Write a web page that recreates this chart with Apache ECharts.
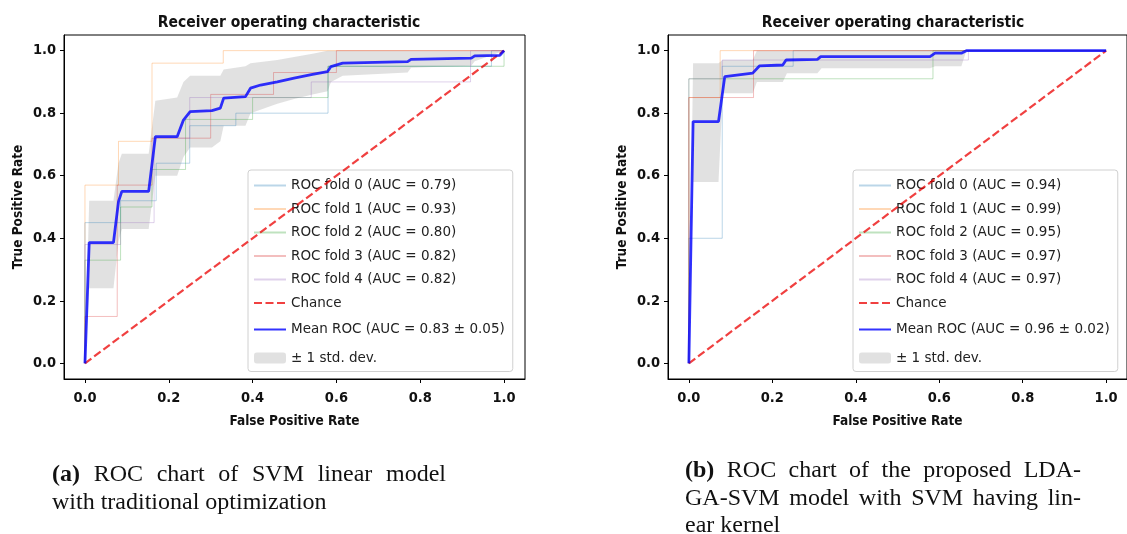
<!DOCTYPE html>
<html><head><meta charset="utf-8">
<script src="https://cdn.jsdelivr.net/npm/echarts@6/dist/echarts.min.js"></script>
<style>html,body{margin:0;padding:0;background:#fff}#c{width:1127px;height:534px}</style>
</head><body><div id="c"></div>
<script>
// ---------- tick labels / texts ----------
const tickValues = [0.0, 0.2, 0.4, 0.6, 0.8, 1.0];
const titleText = 'Receiver operating characteristic';
const xName = 'False Positive Rate';
const yName = 'True Positive Rate';
const chanceLine = [[0, 0], [1, 1]];

// ---------- chart (a) ----------
const a_foldNames = ['ROC fold 0 (AUC = 0.79)', 'ROC fold 1 (AUC = 0.93)', 'ROC fold 2 (AUC = 0.80)', 'ROC fold 3 (AUC = 0.82)', 'ROC fold 4 (AUC = 0.82)'];
const a_meanName = 'Mean ROC (AUC = 0.83 ± 0.05)';
const a_fold0 = [[0,0],[0,0.45],[0.085,0.45],[0.085,0.52],[0.17,0.52],[0.17,0.64],[0.25,0.64],[0.25,0.76],[0.36,0.76],[0.36,0.80],[0.58,0.80],[0.58,0.95],[0.97,0.95],[0.97,1],[1,1]];
const a_fold1 = [[0,0],[0,0.57],[0.08,0.57],[0.08,0.71],[0.16,0.71],[0.16,0.96],[0.33,0.96],[0.33,1],[1,1]];
const a_fold2 = [[0,0],[0,0.33],[0.085,0.33],[0.085,0.50],[0.16,0.50],[0.16,0.62],[0.24,0.62],[0.24,0.78],[0.40,0.78],[0.40,0.85],[0.58,0.85],[0.58,0.95],[1,0.95],[1,1]];
const a_fold3 = [[0,0],[0,0.15],[0.077,0.15],[0.077,0.57],[0.16,0.57],[0.16,0.72],[0.30,0.72],[0.30,0.86],[0.45,0.86],[0.45,0.93],[0.60,0.93],[0.60,1],[1,1]];
const a_fold4 = [[0,0],[0,0.38],[0.085,0.38],[0.085,0.45],[0.165,0.45],[0.165,0.72],[0.25,0.72],[0.25,0.85],[0.54,0.85],[0.54,0.90],[0.92,0.90],[0.92,1],[1,1]];
const a_meanFpr = [0, 0.0101, 0.068, 0.08, 0.088, 0.152, 0.168, 0.22, 0.235, 0.251, 0.303, 0.323, 0.331, 0.383, 0.395, 0.419, 0.459, 0.499, 0.543, 0.579, 0.587, 0.615, 0.77, 0.778, 0.922, 0.93, 0.99, 1];
const a_meanTpr = [0, 0.386, 0.386, 0.517, 0.55, 0.55, 0.725, 0.725, 0.778, 0.805, 0.808, 0.816, 0.848, 0.853, 0.88, 0.89, 0.90, 0.912, 0.924, 0.933, 0.949, 0.96, 0.965, 0.972, 0.976, 0.983, 0.985, 1];
const a_bandFpr   = [0, 0.0101, 0.068, 0.08, 0.088, 0.152, 0.168, 0.22, 0.235, 0.251, 0.303, 0.323, 0.331, 0.383, 0.395, 0.459, 0.499, 0.543, 0.579, 0.587, 0.615, 0.77, 0.778, 0.922, 0.93, 1];
const a_bandUpper = [0, 0.52, 0.52, 0.64, 0.67, 0.67, 0.84, 0.85, 0.90, 0.92, 0.92, 0.92, 0.94, 0.95, 0.96, 0.97, 0.98, 0.99, 1.0, 1.0, 1.0, 1.0, 1.0, 1.0, 1.0, 1];
const a_bandLower = [0, 0.24, 0.24, 0.39, 0.43, 0.43, 0.60, 0.60, 0.66, 0.69, 0.69, 0.71, 0.76, 0.76, 0.80, 0.83, 0.845, 0.86, 0.87, 0.90, 0.92, 0.93, 0.945, 0.952, 0.966, 1];
const a_caption = [
  {words: [['(a)', true], ['ROC'], ['chart'], ['of'], ['SVM'], ['linear'], ['model']], justify: true},
  {words: [['with'], ['traditional'], ['optimization']], justify: false}
];

// ---------- chart (b) ----------
const b_foldNames = ['ROC fold 0 (AUC = 0.94)', 'ROC fold 1 (AUC = 0.99)', 'ROC fold 2 (AUC = 0.95)', 'ROC fold 3 (AUC = 0.97)', 'ROC fold 4 (AUC = 0.97)'];
const b_meanName = 'Mean ROC (AUC = 0.96 ± 0.02)';
const b_fold0 = [[0,0],[0,0.40],[0.08,0.40],[0.08,0.95],[0.25,0.95],[0.25,1],[1,1]];
const b_fold1 = [[0,0],[0,0.85],[0.075,0.85],[0.075,1],[1,1]];
const b_fold2 = [[0,0],[0,0.91],[0.585,0.91],[0.585,1],[1,1]];
const b_fold3 = [[0,0],[0,0.85],[0.155,0.85],[0.155,1],[1,1]];
const b_fold4 = [[0,0],[0,0.91],[0.08,0.91],[0.08,0.97],[0.67,0.97],[0.67,1],[1,1]];
const b_meanFpr = [0, 0.0101, 0.071, 0.086, 0.153, 0.169, 0.225, 0.233, 0.308, 0.316, 0.578, 0.59, 0.653, 0.665, 1];
const b_meanTpr = [0, 0.773, 0.773, 0.917, 0.928, 0.951, 0.954, 0.97, 0.972, 0.981, 0.981, 0.992, 0.992, 1.0, 1];
const b_bandFpr   = [0, 0.0101, 0.071, 0.081, 0.153, 0.163, 0.225, 0.235, 0.308, 0.318, 0.578, 0.59, 0.653, 0.665, 1];
const b_bandUpper = [0, 0.96, 0.96, 0.97, 0.97, 1.0, 1.0, 1.0, 1.0, 1.0, 1.0, 1.0, 1.0, 1.0, 1];
const b_bandLower = [0, 0.58, 0.58, 0.864, 0.864, 0.90, 0.90, 0.928, 0.928, 0.944, 0.944, 0.95, 0.95, 1.0, 1];
const b_caption = [
  {words: [['(b)', true], ['ROC'], ['chart'], ['of'], ['the'], ['proposed'], ['LDA-']], justify: true},
  {words: [['GA-SVM'], ['model'], ['with'], ['SVM'], ['having'], ['lin-']], justify: true},
  {words: [['ear'], ['kernel']], justify: false}
];

// ---------- styling ----------
const foldColors = ['#1f77b4', '#ff7f0e', '#2ca02c', '#d62728', '#9467bd'];
const boldCond = '"DejaVu Sans Condensed", "DejaVu Sans", sans-serif';
const legendFont = '"DejaVu Sans", sans-serif';
const serif = '"Liberation Serif", "Times New Roman", serif';
const bandColor = 'rgba(128,128,128,0.24)';
const grids = [
  {left: 64, top: 35, width: 461, height: 344},
  {left: 668, top: 35, width: 462, height: 344}
];

function zipXY(xs, ys) { return xs.map((x, i) => [x, ys[i]]); }

function buildPanel(idx, foldNames, folds, meanName, meanFpr, meanTpr, bandFpr, bandUp, bandLo) {
  const series = [];
  folds.forEach((f, i) => series.push({
    type: 'line', name: foldNames[i], xAxisIndex: idx, yAxisIndex: idx, data: f,
    showSymbol: false, symbol: 'none', animation: false, z: 3,
    lineStyle: {color: foldColors[i], width: 1, opacity: 0.3},
    itemStyle: {color: foldColors[i], opacity: 0.3}
  }));
  series.push({
    type: 'line', name: 'Chance', xAxisIndex: idx, yAxisIndex: idx, data: chanceLine,
    showSymbol: false, symbol: 'none', animation: false, z: 4,
    lineStyle: {color: 'rgba(235,0,0,0.75)', width: 2.2, type: [8, 3.5]},
    itemStyle: {color: 'rgba(235,0,0,0.75)'}
  });
  series.push({
    type: 'line', name: meanName, xAxisIndex: idx, yAxisIndex: idx, data: zipXY(meanFpr, meanTpr),
    showSymbol: false, symbol: 'none', animation: false, z: 5,
    lineStyle: {color: 'rgba(0,0,255,0.8)', width: 2.8},
    itemStyle: {color: 'rgba(0,0,255,0.8)'}
  });
  const bandData = bandFpr.map((x, i) => [x, bandUp[i], bandLo[i]]);
  series.push({
    type: 'custom', name: '± 1 std. dev.', xAxisIndex: idx, yAxisIndex: idx,
    coordinateSystem: 'cartesian2d', animation: false, z: 2, clip: true,
    encode: {x: 0, y: [1, 2]},
    data: bandData,
    itemStyle: {color: bandColor},
    renderItem: function (params, api) {
      if (params.dataIndex !== 0) return null;
      const pts = [];
      for (let i = 0; i < bandData.length; i++) pts.push(api.coord([bandData[i][0], bandData[i][1]]));
      for (let i = bandData.length - 1; i >= 0; i--) pts.push(api.coord([bandData[i][0], bandData[i][2]]));
      return {type: 'polygon', shape: {points: pts}, style: {fill: bandColor, stroke: null}};
    }
  });
  return series;
}

function axisCommon(idx, isX) {
  return {
    type: 'value', gridIndex: idx, min: -0.05, max: 1.05,
    axisLine: {show: true, onZero: false, lineStyle: {color: '#000', width: 1}},
    axisTick: {show: true, customValues: tickValues, length: 4, inside: false, lineStyle: {color: '#000', width: 1}},
    axisLabel: {customValues: tickValues, formatter: v => v.toFixed(1), fontFamily: boldCond, fontWeight: 'bold', fontSize: 14.5, color: '#111', margin: isX ? 12 : 8},
    splitLine: {show: false},
    name: isX ? xName : yName, nameLocation: 'middle', nameGap: isX ? 35 : 39,
    nameTextStyle: {fontFamily: boldCond, fontWeight: 'bold', fontSize: 13.5, color: '#111'}
  };
}

// ---------- captions (justified lines) ----------
const measureCtx = document.createElement('canvas').getContext('2d');
function captionGraphics(lines, x0, width, y0, lineH, size) {
  const els = [];
  lines.forEach((ln, li) => {
    const fonts = ln.words.map(w => (w[1] ? 'bold ' : '') + size + 'px ' + serif);
    const widths = ln.words.map((w, i) => { measureCtx.font = fonts[i]; return measureCtx.measureText(w[0]).width; });
    measureCtx.font = size + 'px ' + serif;
    const spaceW = measureCtx.measureText(' ').width;
    const total = widths.reduce((a, b) => a + b, 0);
    const gap = ln.justify ? (width - total) / (ln.words.length - 1) : spaceW;
    let x = x0;
    ln.words.forEach((w, i) => {
      els.push({type: 'text', x: x, y: y0 + li * lineH, style: {text: w[0], font: fonts[i], fill: '#111', textVerticalAlign: 'middle'}});
      x += widths[i] + gap;
    });
  });
  return els;
}

const chart = echarts.init(document.getElementById('c'), null, {renderer: 'canvas'});
const series = [].concat(
  buildPanel(0, a_foldNames, [a_fold0, a_fold1, a_fold2, a_fold3, a_fold4], a_meanName, a_meanFpr, a_meanTpr, a_bandFpr, a_bandUpper, a_bandLower),
  buildPanel(1, b_foldNames, [b_fold0, b_fold1, b_fold2, b_fold3, b_fold4], b_meanName, b_meanFpr, b_meanTpr, b_bandFpr, b_bandUpper, b_bandLower)
);

function legendFor(left, foldNames, meanName) {
  const hideSym = {opacity: 0};
  const data = foldNames.map(n => ({name: n, itemStyle: hideSym}));
  data.push({name: 'Chance', itemStyle: hideSym});
  data.push({name: meanName, itemStyle: hideSym, textStyle: {lineHeight: 21}});
  data.push({name: '± 1 std. dev.', textStyle: {lineHeight: 19}});
  return {
    left: left, top: 170, orient: 'vertical', itemWidth: 32, itemHeight: 11, itemGap: 8.5,
    padding: [8, 8, 4, 5], borderColor: '#d0d0d0', borderWidth: 1, borderRadius: 3,
    backgroundColor: 'rgba(255,255,255,0.8)', selectedMode: false,
    textStyle: {fontFamily: legendFont, fontSize: 13.5, color: '#222', lineHeight: 15},
    data: data
  };
}

const titleStyle = {fontFamily: boldCond, fontWeight: 'bold', fontSize: 15.5, color: '#111'};
chart.setOption({
  animation: false,
  backgroundColor: '#fff',
  title: [
    {text: titleText, left: 284, top: 10, textAlign: 'center', textStyle: titleStyle},
    {text: titleText, left: 888, top: 10, textAlign: 'center', textStyle: titleStyle}
  ],
  grid: grids.map(g => Object.assign({show: true, borderColor: '#000', borderWidth: 1, backgroundColor: 'transparent'}, g)),
  xAxis: [axisCommon(0, true), axisCommon(1, true)],
  yAxis: [axisCommon(0, false), axisCommon(1, false)],
  legend: [
    legendFor(248, a_foldNames, a_meanName),
    legendFor(853, b_foldNames, b_meanName)
  ],
  series: series,
  graphic: [].concat(
    captionGraphics(a_caption, 52, 394, 475, 28, 24),
    captionGraphics(b_caption, 685, 396, 471, 27.5, 24)
  )
});
</script>
</body></html>
